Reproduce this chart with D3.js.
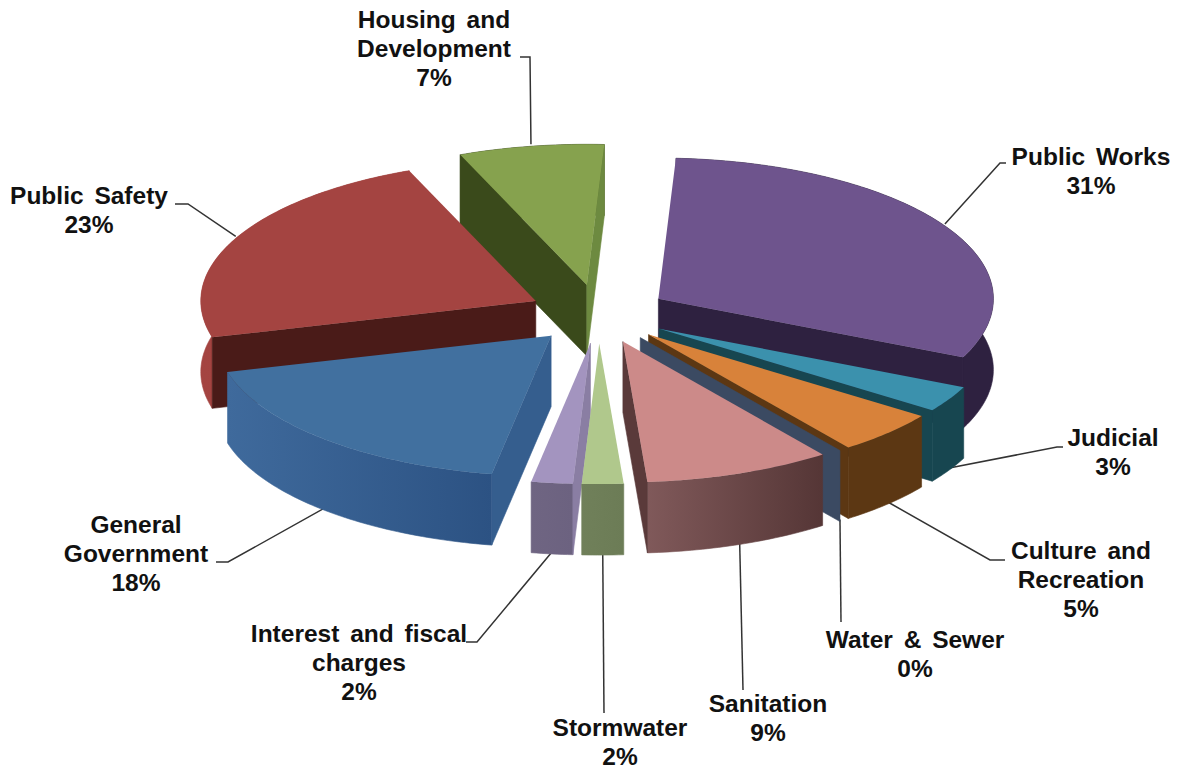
<!DOCTYPE html>
<html>
<head>
<meta charset="utf-8">
<script src="https://cdnjs.cloudflare.com/ajax/libs/d3/7.8.5/d3.min.js"></script>
<style>
  html, body { margin: 0; background: #fff; }
  text { font-family: "Liberation Sans", Arial, sans-serif; font-weight: 700; font-size: 24.5px; fill: #111; word-spacing: 4px; }
</style>
</head>
<body>
<svg id="chart" width="1182" height="769"></svg>
<script>
// Expenditure shares by function
const categories = ["Public Works", "Judicial", "Culture and Recreation", "Water & Sewer", "Sanitation",
                    "Stormwater", "Interest and fiscal charges", "General Government", "Public Safety", "Housing and Development"];
const shares = [31, 3, 5, 0, 9, 2, 2, 18, 23, 7];

// Slice colours: top face, rim left/right, start wall, end wall
const topColors   = ["#6e548d", "#3b91ad", "#d8823a", "#3d5674", "#cc8a89", "#b0c88c", "#a394bf", "#41709f", "#a44441", "#86a24e"];
const rimLeft     = ["#2e2140", "#174650", "#5c3713", "#3b4a62", "#80595a", "#70805a", "#6f6582", "#3f6a9c", "#a44441", "#3a4a1b"];
const rimRight    = ["#2e2140", "#174650", "#5c3713", "#3b4a62", "#553636", "#6c7c56", "#6c6280", "#2c5283", "#9e403d", "#3a4a1b"];
const startWalls  = ["#2e2140", "#174650", "#5c3713", "#3b4a62", "#5a3a3a", "#70805a", "#8a7ea3", "#355e8e", "#4a1b18", "#3a4a1b"];
const endWalls    = ["#2e2140", "#174650", "#5c3713", "#3b4a62", "#5a3a3a", "#70805a", "#8a7ea3", "#355e8e", "#4a1b18", "#6d8a40"];

// Text lines for each data label, in category order
const labelLines = [
  ["Public Works", "31%"], ["Judicial", "3%"], ["Culture and", "Recreation", "5%"], ["Water & Sewer", "0%"],
  ["Sanitation", "9%"], ["Stormwater", "2%"], ["Interest and fiscal", "charges", "2%"],
  ["General", "Government", "18%"], ["Public Safety", "23%"], ["Housing and", "Development", "7%"]
];
// Label centre, first line centre, and leader bend points
const labelCentreX = [1091, 1113, 1081, 915, 768, 620, 359, 136, 89, 434];
const labelFirstY  = [157, 438, 551, 640, 704, 728, 634, 525, 196, 20];
const leaderBends  = [
  [[1000, 163], [1006, 163]], [[1057, 447], [1063, 447]], [[990, 560], [1005, 560]], [[841, 622]], [[743, 690]],
  [[604, 713]], [[477, 642], [466, 642]], [[228, 562], [216, 562]], [[188, 204], [175, 204]], [[530, 57], [520, 57]]
];
// Back to front
const drawOrder = [9, 8, 0, 7, 1, 2, 3, 4, 6, 5];

const cx = 598.5, cy = 314, radius = 335, tilt = 0.42, explode = 70, depth = 71, lineHeight = 29.2;
const startAngle = 3 * Math.PI / 180;

const pie = d3.pie().sort(null).startAngle(startAngle).endAngle(startAngle + 2 * Math.PI);
const slices = pie(shares);

const screenX = d3.scaleLinear().domain([-1, 1]).range([cx - 1, cx + 1]);
const screenY = d3.scaleLinear().domain([-1, 1]).range([cy - tilt, cy + tilt]);

// Position on the tilted disc for a clock angle and a distance from the slice tip
function project(slice, angle, r, drop = 0) {
  const mid = (slice.startAngle + slice.endAngle) / 2;
  const dx = explode * Math.sin(mid) + r * Math.sin(angle);
  const dy = -(explode * Math.cos(mid) + r * Math.cos(angle));
  return [screenX(dx), screenY(dy) + drop];
}

function arcPoints(slice, drop) {
  const n = Math.max(2, Math.ceil((slice.endAngle - slice.startAngle) * 60));
  return d3.range(n + 1).map(i =>
    project(slice, slice.startAngle + (slice.endAngle - slice.startAngle) * i / n, radius, drop));
}

const outline = d3.line();
const closed = pts => outline(pts) + "Z";

const svg = d3.select("#chart");
const defs = svg.append("defs");

// Leader lines sit beneath the slices
svg.append("g").selectAll("path")
  .data(slices)
  .join("path")
  .attr("fill", "none")
  .attr("stroke", "#333")
  .attr("stroke-width", 1.5)
  .attr("d", (s, i) => {
    const mid = (s.startAngle + s.endAngle) / 2;
    const drop = Math.cos(mid) < 0 ? depth : 0;
    return outline([project(s, mid, radius, drop - 2), ...leaderBends[i]]);
  });

const pieLayer = svg.append("g");

drawOrder.forEach(i => {
  const s = slices[i];
  const g = pieLayer.append("g");
  const tip = project(s, 0, 0);
  const tipLow = project(s, 0, 0, depth);
  const aTop = project(s, s.startAngle, radius);
  const aLow = project(s, s.startAngle, radius, depth);
  const bTop = project(s, s.endAngle, radius);
  const bLow = project(s, s.endAngle, radius, depth);

  const grad = defs.append("linearGradient").attr("id", "rim" + i);
  grad.append("stop").attr("offset", "0%").attr("stop-color", rimLeft[i]);
  grad.append("stop").attr("offset", "100%").attr("stop-color", rimRight[i]);

  // Rim first, then whichever cut faces turn towards the viewer, then the top.
  // A hairline stroke in the fill colour closes antialiasing seams between faces.
  g.append("path")
    .attr("d", closed([...arcPoints(s, 0), ...arcPoints(s, depth).reverse()]))
    .attr("fill", `url(#rim${i})`)
    .attr("stroke", `url(#rim${i})`).attr("stroke-width", 0.6);
  if (Math.sin(s.startAngle) < 0) {
    g.append("path").attr("d", closed([tip, aTop, aLow, tipLow]))
      .attr("fill", startWalls[i]).attr("stroke", startWalls[i]).attr("stroke-width", 0.6);
  }
  if (Math.sin(s.endAngle) > 0) {
    g.append("path").attr("d", closed([tip, bTop, bLow, tipLow]))
      .attr("fill", endWalls[i]).attr("stroke", endWalls[i]).attr("stroke-width", 0.6);
  }
  g.append("path")
    .attr("d", closed([tip, ...arcPoints(s, 0)]))
    .attr("fill", topColors[i]);
});

// Data labels
const labels = svg.append("g").selectAll("text")
  .data(labelLines)
  .join("text")
  .attr("text-anchor", "middle");
labels.selectAll("tspan")
  .data((lines, i) => lines.map((t, k) => ({ t, k, i })))
  .join("tspan")
  .attr("x", d => labelCentreX[d.i])
  .attr("y", d => labelFirstY[d.i] + d.k * lineHeight + 8)
  .text(d => d.t);
</script>
</body>
</html>
